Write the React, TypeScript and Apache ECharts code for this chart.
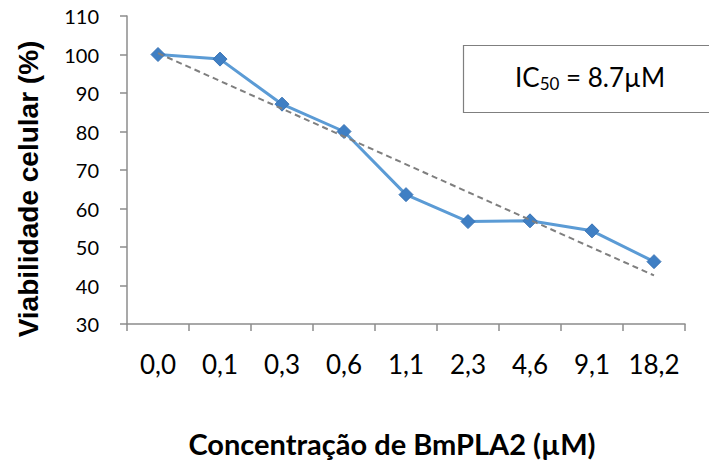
import React, { useEffect, useRef } from "react";
import * as echarts from "echarts";

const categories = ["0,0", "0,1", "0,3", "0,6", "1,1", "2,3", "4,6", "9,1", "18,2"];
const viability = [100, 98.8, 87.1, 80, 63.6, 56.6, 56.8, 54.2, 46.2];
const yMin = 30;
const yMax = 110;
const yInterval = 10;
const yTitle = "Viabilidade celular (%)";
const xTitle = "Concentração de BmPLA2 (µM)";
const icLabel = "IC";
const icSub = "50";
const icValue = " = 8.7µM";

// linear (least squares) trendline over category index, as in the spreadsheet
function linearTrend(values: number[]): number[] {
  const n = values.length;
  let sx = 0, sy = 0, sxx = 0, sxy = 0;
  values.forEach((v, i) => {
    sx += i; sy += v; sxx += i * i; sxy += i * v;
  });
  const slope = (n * sxy - sx * sy) / (n * sxx - sx * sx);
  const intercept = (sy - slope * sx) / n;
  return values.map((_, i) => +(intercept + slope * i).toFixed(3));
}

const trend = linearTrend(viability);

function measure(text: string, font: string): number {
  const c = document.createElement("canvas").getContext("2d");
  if (!c) return text.length * 12;
  c.font = font;
  return c.measureText(text).width;
}

export default function App() {
  const ref = useRef<HTMLDivElement>(null);
  useEffect(() => {
    if (!ref.current) return;
    const chart = echarts.init(ref.current, undefined, { renderer: "svg" });
    const axisColor = "#8c8c8c";
    const font = "Lato";
    const icFont = "26px Lato";
    const subFont = "17px Lato";
    const icX = 515;
    const icY = 77;
    const w1 = measure(icLabel, icFont);
    const w2 = measure(icSub, subFont);
    chart.setOption({
      animation: false,
      backgroundColor: "#ffffff",
      grid: { left: 127, right: 24, top: 16, bottom: 148, containLabel: false },
      xAxis: {
        type: "category",
        data: categories,
        boundaryGap: true,
        axisLine: { show: true, lineStyle: { color: axisColor, width: 1.5 } },
        axisTick: { show: true, interval: 0, length: 7, lineStyle: { color: axisColor, width: 1.5 } },
        axisLabel: { color: "#000", fontFamily: font, fontSize: 26, margin: 27, interval: 0, hideOverlap: false },
        splitLine: { show: false },
      },
      yAxis: {
        type: "value",
        min: yMin,
        max: yMax,
        interval: yInterval,
        axisLine: { show: true, lineStyle: { color: axisColor, width: 1.5 } },
        axisTick: { show: true, length: 7, lineStyle: { color: axisColor, width: 1.5 } },
        axisLabel: { color: "#000", fontFamily: font, fontSize: 20, margin: 28 },
        splitLine: { show: false },
      },
      series: [
        {
          type: "line",
          data: viability,
          symbol: "diamond",
          symbolSize: 14,
          lineStyle: { color: "#5b9bd5", width: 3 },
          itemStyle: { color: "#3f7fc4", borderColor: "#3a74b5", borderWidth: 1 },
          z: 2,
        },
        {
          type: "line",
          data: trend,
          symbol: "none",
          lineStyle: { color: "#7f7f7f", width: 2, type: [6, 4] },
          z: 3,
        },
      ],
      graphic: [
        {
          type: "text",
          x: 28,
          y: 189,
          rotation: Math.PI / 2,
          style: {
            text: yTitle,
            font: "bold 28px 'Liberation Sans', Arial, sans-serif",
            fill: "#000",
            align: "center",
            verticalAlign: "middle",
          },
        },
        {
          type: "text",
          x: 392,
          y: 443,
          style: {
            text: xTitle,
            font: "bold 29px Lato",
            fill: "#000",
            align: "center",
            verticalAlign: "middle",
          },
        },
        {
          type: "rect",
          shape: { x: 463.5, y: 45.5, width: 260, height: 67 },
          style: { fill: "#ffffff", stroke: "#7f7f7f", lineWidth: 1.2 },
        },
        {
          type: "text",
          x: icX,
          y: icY,
          style: { text: icLabel, font: icFont, fill: "#000", align: "left", verticalAlign: "middle" },
        },
        {
          type: "text",
          x: icX + w1,
          y: icY + 6,
          style: { text: icSub, font: subFont, fill: "#000", align: "left", verticalAlign: "middle" },
        },
        {
          type: "text",
          x: icX + w1 + w2,
          y: icY,
          style: { text: icValue, font: icFont, fill: "#000", align: "left", verticalAlign: "middle" },
        },
      ],
    });
    return () => chart.dispose();
  }, []);
  return (
    <div
      ref={ref}
      style={{ position: "fixed", left: 0, top: 0, width: 709, height: 472, background: "#fff" }}
    />
  );
}
